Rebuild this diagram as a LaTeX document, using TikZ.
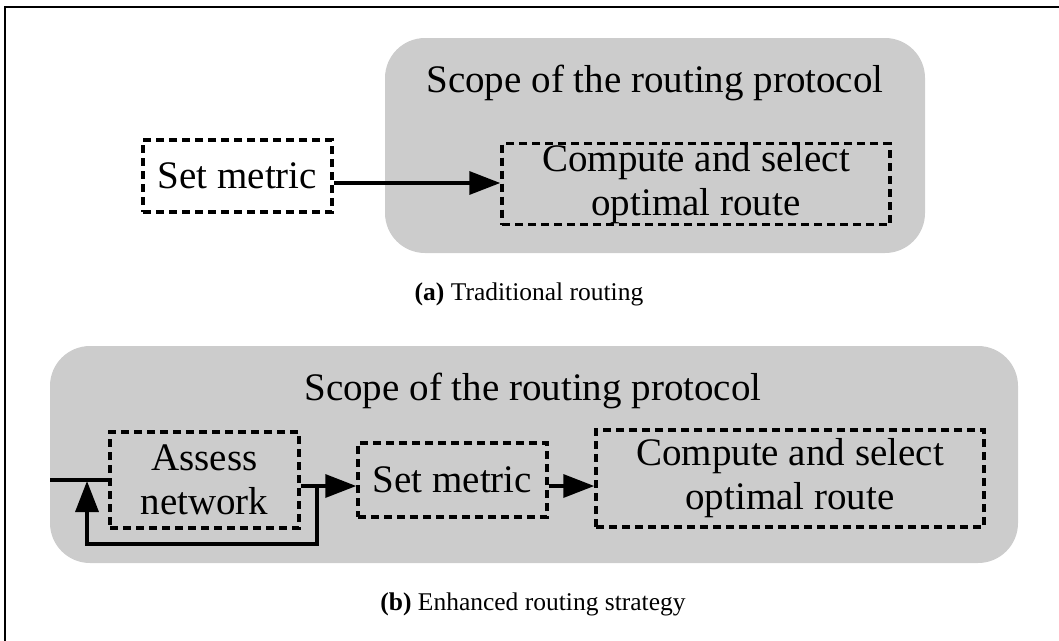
\documentclass[tikz,border=0pt]{standalone}
\usepackage{fontspec}
\setmainfont{Liberation Serif}
\usetikzlibrary{arrows.meta}
\definecolor{scopegray}{HTML}{CCCCCC}
\tikzset{
  scope box/.style={fill=scopegray, draw=none, rounded corners=40pt, inner sep=0pt},
  stage/.style={draw, line width=3.5pt, dash pattern=on 8pt off 5pt, inner sep=0pt,
    align=center, font=\fontsize{39}{44}\selectfont},
  heading/.style={anchor=base, inner sep=0pt, font=\fontsize{39}{44}\selectfont},
  caption/.style={anchor=base, inner sep=0pt, font=\fontsize{25.5}{30}\selectfont},
  flow/.style={line width=3.5pt, -{Triangle[length=31pt,width=23pt]}},
  wire/.style={line width=3.5pt},
}
\begin{document}
\begin{tikzpicture}[x=1pt,y=-1pt]
\useasboundingbox (0,0) rectangle (1059,640);
\begin{scope}
\clip (0,0) rectangle (1059,640);
\draw[line width=2.5pt] (5,7) rectangle (1080,660);
\end{scope}

% (a) traditional routing
\node[scope box, minimum width=540pt, minimum height=215pt] (scopeA) at (655,145.5) {};
\node[heading] (titleA) at (655,92) {Scope of the routing protocol};
\node[stage, minimum width=189pt, minimum height=72pt] (metricA) at (237.5,176) {Set metric};
\node[stage, minimum width=388pt, minimum height=81pt] (computeA) at (696,184)
  {Compute and select\\optimal route};
\draw[flow] (metricA.east |- 0,183) -- (computeA.west |- 0,183);
\node[caption] (capA) at (529,300) {\textbf{(a)} Traditional routing};

% (b) enhanced routing strategy
\node[scope box, minimum width=968pt, minimum height=217pt] (scopeB) at (534,454.5) {};
\node[heading] (titleB) at (533,400) {Scope of the routing protocol};
\node[stage, minimum width=189pt, minimum height=96pt] (assess) at (204.5,480) {Assess\\network};
\node[stage, minimum width=189pt, minimum height=74pt] (metricB) at (452.5,480) {Set metric};
\node[stage, minimum width=388pt, minimum height=97pt] (computeB) at (790,478.5)
  {Compute and select\\optimal route};
\coordinate (inB) at (50,480);
\coordinate (split) at (317,486);
\coordinate (loopTip) at (87,481);
\draw[wire] (inB) -- (assess.west);
\draw[flow] (assess.east |- split) -- (metricB.west |- split);
\draw[flow] (split) -- ++(0,58) -| (loopTip);
\draw[flow] (metricB.east |- split) -- (computeB.west |- split);
\node[caption] (capB) at (533,610) {\textbf{(b)} Enhanced routing strategy};
\end{tikzpicture}
\end{document}
